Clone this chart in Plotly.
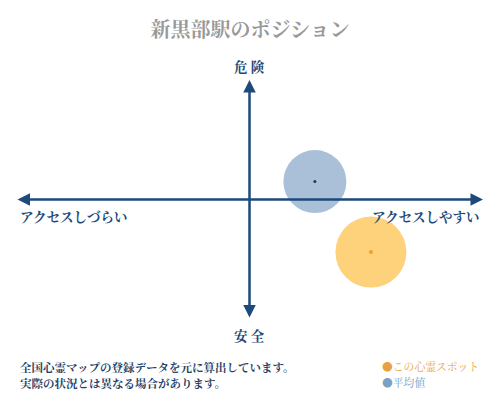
import plotly.graph_objects as go

# positions on the -1..1 grid (x: access, y: danger)
names = ["平均値", "この心霊スポット"]
x_vals = [0.28, 0.52]
y_vals = [0.15, -0.44]

title = "新黒部駅のポジション"
axis_labels = {"top": "危 険", "bottom": "安 全",
               "left": "アクセスしづらい", "right": "アクセスしやすい"}
notes = ["全国心霊マップの登録データを元に算出しています。",
         "実際の状況とは異なる場合があります。"]

FONT = "Noto Serif CJK JP, Noto Sans CJK JP, sans-serif"
NAVY = "#1d4a7a"
bubble_fill = ["#aac0d9", "#fed27b"]
dot_color = ["#333333", "#f0a030"]
bubble_size = [63, 71]
legend_color = ["#7aa0c4", "#e9a040"]

fig = go.Figure()
for i in range(len(names)):
    fig.add_trace(go.Scatter(
        x=[x_vals[i]], y=[y_vals[i]], mode="markers",
        marker=dict(size=bubble_size[i], color=bubble_fill[i], line=dict(width=0)),
        showlegend=False, hoverinfo="skip"))
    fig.add_trace(go.Scatter(
        x=[x_vals[i]], y=[y_vals[i]], mode="markers",
        marker=dict(size=3 if i == 0 else 4, color=dot_color[i]),
        showlegend=False, hoverinfo="skip"))

# the two axes, arrows at both ends
arrow = dict(text="", showarrow=True, axref="x", ayref="y", xref="x", yref="y",
             arrowhead=2, arrowside="end+start", arrowsize=1, arrowwidth=2.5,
             arrowcolor=NAVY, standoff=0, startstandoff=0)
fig.add_annotation(x=1, y=0, ax=-1, ay=0, **arrow)
fig.add_annotation(x=0, y=1, ax=0, ay=-1, **arrow)

lab = dict(showarrow=False, xref="paper", yref="paper",
           font=dict(family=FONT, size=13.5, color=NAVY))
fig.add_annotation(text="<b>" + axis_labels["top"] + "</b>", x=0.5, y=1.06, yanchor="middle", **lab)
fig.add_annotation(text="<b>" + axis_labels["bottom"] + "</b>", x=0.5, y=-0.065, yanchor="middle", **lab)
fig.add_annotation(text="<b>" + axis_labels["left"] + "</b>", x=0.004, y=0.43, xanchor="left", yanchor="middle", **lab)
fig.add_annotation(text="<b>" + axis_labels["right"] + "</b>", x=0.998, y=0.43, xanchor="right", yanchor="middle", **lab)

# footer notes
for k, line in enumerate(notes):
    fig.add_annotation(text="<b>" + line + "</b>", xref="paper", yref="paper", x=0.004, y=-0.2 - k * 0.067,
                       xanchor="left", yanchor="middle", showarrow=False,
                       font=dict(family=FONT, size=11.5, color="#1f3f66"))

# legend drawn as text
for k, i in enumerate([1, 0]):
    fig.add_annotation(
        text="<span style='color:%s'>●</span>%s" % (legend_color[i], names[i]),
        xref="paper", yref="paper", x=0.78, y=-0.2 - k * 0.067,
        xanchor="left", yanchor="middle", showarrow=False,
        font=dict(family=FONT, size=10.8, color=legend_color[i]))

fig.update_layout(
    width=500, height=400,
    margin=dict(l=16, r=17, t=80, b=81),
    paper_bgcolor="white", plot_bgcolor="white",
    title=dict(text="<b>" + title + "</b>", x=0.5, xanchor="center", y=0.925, yanchor="middle",
               font=dict(family=FONT, size=20, color="#999999")),
    xaxis=dict(range=[-1, 1], visible=False, fixedrange=True),
    yaxis=dict(range=[-1, 1], visible=False, fixedrange=True),
)

fig.write_html("out.html", config={"displayModeBar": False},
               post_script="document.body.style.margin='0';")
